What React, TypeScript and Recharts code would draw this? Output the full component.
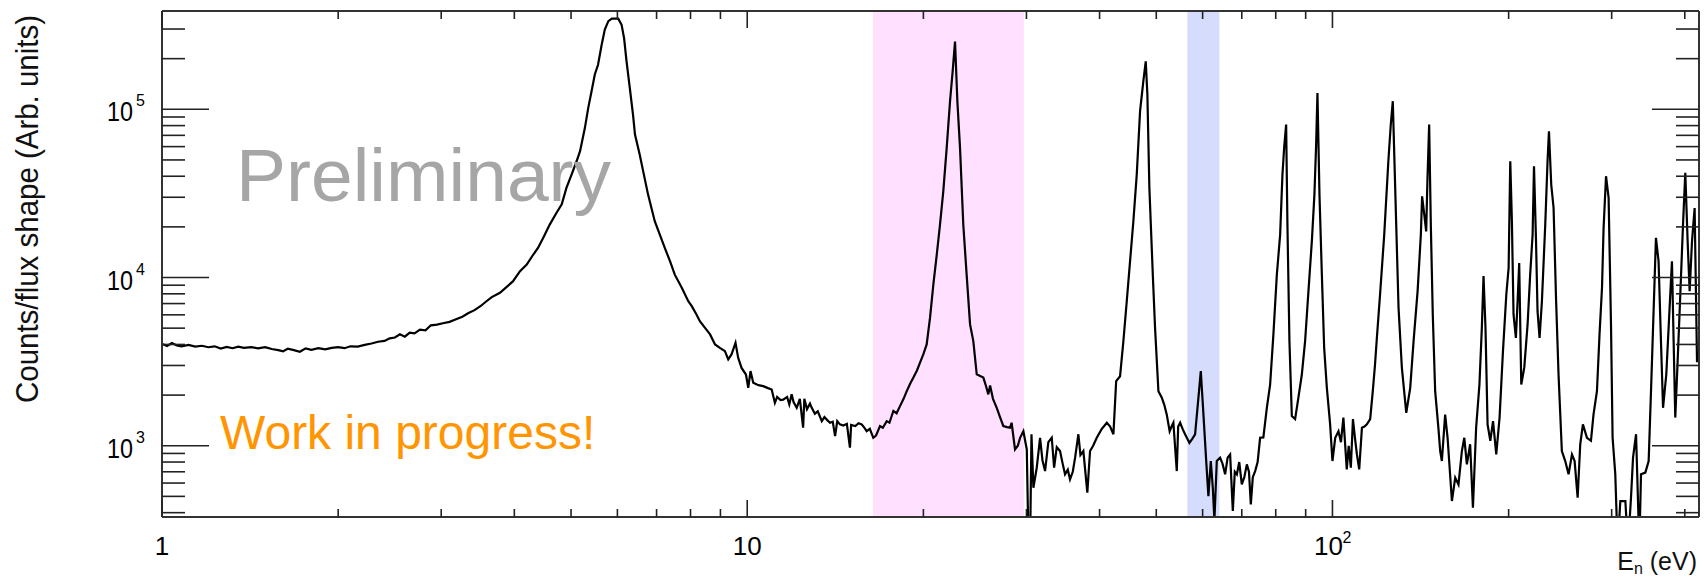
import { LineChart, Line, XAxis, YAxis, ReferenceArea } from "recharts";

const FONT = '"Liberation Sans", Arial, Helvetica, sans-serif';

// [energy (eV), counts/flux (arb. units)]
const plateauBins: [number, number][] = [
    [1.0, 4030], [1.02, 3920], [1.04, 4080], [1.06, 3950], [1.08, 3900], [1.11, 3980],
    [1.14, 3880], [1.17, 3930], [1.2, 3850], [1.23, 3900], [1.26, 3780], [1.29, 3870],
    [1.32, 3800], [1.35, 3880], [1.38, 3820], [1.42, 3860], [1.46, 3790], [1.5, 3850],
    [1.54, 3760], [1.58, 3700], [1.61, 3640], [1.64, 3770], [1.68, 3700], [1.72, 3620],
    [1.76, 3790], [1.8, 3720], [1.85, 3800], [1.9, 3740], [1.95, 3820], [2.0, 3860],
    [2.05, 3800], [2.1, 3900], [2.16, 3880], [2.22, 3980], [2.28, 4050], [2.34, 4150],
    [2.4, 4200], [2.45, 4350], [2.5, 4400], [2.55, 4600], [2.6, 4450], [2.65, 4700],
    [2.7, 4650], [2.76, 4900], [2.82, 4850], [2.88, 5200], [2.95, 5250], [3.02, 5350],
    [3.1, 5450], [3.18, 5650], [3.26, 5850], [3.34, 6150], [3.42, 6400], [3.5, 6750],
    [3.58, 7200], [3.66, 7650],
];

const firstResonanceBins: [number, number][] = [
    [3.78, 8110], [3.98, 9510], [4.09, 10900], [4.2, 11950], [4.31, 13700], [4.39, 15000],
    [4.48, 17200], [4.6, 20700], [4.72, 24200], [4.82, 27200], [4.91, 34100], [5.01, 40900],
    [5.11, 49100], [5.18, 56400], [5.28, 77600], [5.35, 102000], [5.42, 128000],
    [5.49, 161000], [5.56, 184000], [5.64, 242000], [5.71, 298000], [5.79, 334000],
    [5.87, 346000], [6.02, 346000], [6.1, 318000], [6.16, 265000], [6.22, 193000],
    [6.3, 134000], [6.38, 93100], [6.43, 70800], [6.55, 53800], [6.64, 42900], [6.77, 31100],
    [6.86, 25900], [6.95, 21600], [7.09, 18000], [7.23, 15000], [7.38, 12500], [7.52, 10400],
    [7.73, 8690], [7.93, 7240], [8.04, 6760], [8.19, 6030], [8.3, 5500], [8.47, 5020],
    [8.64, 4590], [8.81, 4000], [8.98, 3820], [9.16, 3650], [9.28, 3260], [9.4, 3490],
    [9.55, 4090], [9.65, 3330], [9.78, 2900], [9.95, 2650], [10.04, 2210], [10.13, 2780],
    [10.24, 2370], [10.45, 2290], [10.65, 2260], [10.85, 2200], [11.01, 2160], [11.15, 1800],
    [11.25, 1950], [11.4, 1870], [11.52, 1880], [11.7, 1950], [11.8, 1760], [11.91, 2020],
    [12.0, 1820], [12.15, 1680], [12.3, 1900], [12.46, 1280], [12.52, 1900], [12.65, 1650],
    [12.8, 1780], [12.89, 1680], [13.05, 1550], [13.2, 1600], [13.41, 1400], [13.55, 1480],
    [13.7, 1420], [13.85, 1370], [14.0, 1390], [14.13, 1140], [14.25, 1400], [14.4, 1340],
    [14.6, 1320], [14.8, 1350], [14.98, 973], [15.05, 1330], [15.3, 1310], [15.5, 1360],
    [15.69, 1340], [15.85, 1280], [16.0, 1220], [16.2, 1260],
];

const pinkWindowBins: [number, number][] = [
    [16.42, 1115], [16.6, 1150], [16.86, 1310], [17.05, 1280], [17.31, 1400], [17.5, 1370],
    [17.77, 1610], [18.0, 1560], [18.24, 1720], [18.5, 1900], [18.73, 2110], [19.0, 2350],
    [19.22, 2540], [19.5, 2800], [19.73, 3110], [20.0, 3500], [20.26, 4000], [20.53, 5770],
    [20.8, 9100], [21.08, 13700], [21.35, 20600], [21.63, 32600], [21.92, 59000],
    [22.21, 111700], [22.44, 168000], [22.65, 253000], [22.86, 111700], [23.1, 59000],
    [23.4, 20600], [23.71, 10400], [24.03, 5260], [24.34, 4190], [24.67, 2660], [25.0, 2600],
    [25.32, 2540], [25.6, 2250], [25.82, 2020], [26.0, 2280], [26.3, 1900], [26.69, 1680],
    [27.0, 1500], [27.39, 1310], [27.8, 1290], [28.12, 1280], [28.3, 1370], [28.68, 950],
    [29.0, 1000], [29.26, 1115], [29.64, 1220], [30.04, 950], [30.25, 250], [30.43, 250],
    [30.6, 1170], [30.83, 563], [31.24, 740], [31.65, 1115], [31.95, 820], [32.28, 707],
    [32.7, 1050], [33.14, 1115], [33.45, 740], [33.8, 980], [34.24, 930], [34.6, 780],
    [34.92, 676], [35.3, 720], [35.61, 631], [36.0, 700], [36.33, 849], [36.8, 1170],
    [37.1, 880], [37.53, 930], [38.12, 526], [38.53, 930], [39.0, 1000], [39.56, 1115],
    [40.3, 1250], [41.16, 1370], [41.7, 1300], [42.24, 1170],
];

const midRangeBins: [number, number][] = [
    [42.7, 2420], [43.36, 2590], [43.93, 4190], [44.52, 7250], [45.1, 12500], [45.69, 21600],
    [46.3, 40900], [46.91, 97500], [47.52, 147000], [47.97, 193000], [48.28, 122000],
    [48.66, 34100], [49.32, 10400], [49.76, 5020], [50.42, 2110], [51.1, 1930], [51.6, 1750],
    [52.11, 1530], [52.7, 1220], [53.1, 1300], [53.48, 1370], [54.2, 707], [54.5, 1300],
    [54.92, 1370], [55.5, 1250], [56.0, 1170], [56.5, 1100], [56.96, 1040], [57.6, 1100],
    [58.25, 1170], [59.02, 1930], [59.57, 2780], [60.05, 1760], [60.83, 830], [61.38, 502],
    [61.96, 811], [62.45, 563], [62.85, 360], [63.44, 811], [64.27, 849], [64.9, 780],
    [65.56, 676], [66.2, 850], [66.86, 888], [67.57, 409], [68.1, 700], [68.65, 676],
    [69.3, 800], [70.0, 589], [70.7, 650], [71.4, 775], [72.0, 700], [72.53, 448],
    [73.1, 650], [73.78, 707], [74.5, 800], [75.23, 1115], [76.2, 1120], [77.25, 1680],
    [78.25, 2310], [79.27, 4590], [80.35, 10400], [81.4, 18000], [82.14, 40900],
    [82.69, 59000], [83.34, 81200], [83.77, 20600], [84.43, 4190], [85.23, 1500],
    [86.34, 1440], [87.46, 1930], [88.65, 2650], [89.8, 4190], [90.99, 8300], [92.21, 16400],
    [93.15, 31100], [93.78, 61700], [94.27, 125000], [95.02, 31100], [95.92, 10400],
    [96.79, 3820], [97.82, 2210], [99.09, 1340], [100.0, 811], [101.1, 1115], [102.4, 1220],
    [103.4, 1050], [104.4, 1470], [105.8, 723], [106.6, 1000], [107.5, 740], [108.4, 1440],
    [109.3, 1100], [110.1, 888], [111.1, 723], [112.3, 1280], [113.4, 1300], [114.5, 1340],
    [116.0, 1440], [117.2, 2110], [118.2, 3000], [119.1, 4380], [120.6, 7930], [122.6, 18000],
    [124.6, 49100], [125.8, 81200], [126.8, 111700], [128.0, 34100], [129.7, 6600],
    [131.4, 2910], [133.7, 1570], [135.8, 2210], [137.6, 4190], [139.8, 8300], [141.6, 18000],
    [142.3, 30400], [143.5, 23700], [144.6, 18800], [145.3, 37400], [146.3, 81200],
    [147.3, 19700], [148.4, 6030], [149.8, 2110], [151.7, 1280],
];

const highRangeBins: [number, number][] = [
    [152.8, 930], [153.8, 811], [155.8, 1530], [157.3, 1115], [160.0, 469], [162.1, 646],
    [164.2, 589], [166.4, 930], [168.0, 1115], [169.7, 775], [171.9, 1020], [173.8, 428],
    [176.0, 1280], [178.3, 2310], [180.0, 5020], [181.2, 10200], [182.6, 5020], [184.1, 1340],
    [186.1, 1070], [188.1, 1400], [190.5, 888], [193.0, 1470], [195.6, 3650], [198.2, 7930],
    [200.0, 11400], [201.3, 49100], [202.6, 21600], [203.9, 6030], [205.8, 4380],
    [207.2, 7250], [208.5, 12200], [210.2, 2310], [212.7, 2910], [215.5, 5260], [217.7, 10400],
    [219.8, 18000], [221.0, 45900], [222.7, 17200], [224.1, 6310], [225.9, 4380], [228.0, 7250],
    [231.0, 20600], [233.1, 49100], [234.4, 74100], [236.5, 35700], [238.7, 25900],
    [241.0, 7570], [243.4, 2650], [246.6, 930], [249.9, 811], [253.2, 676], [256.6, 888],
    [259.3, 811], [262.4, 491], [265.1, 1020], [267.9, 1340], [272.2, 1115], [276.5, 1070],
    [279.3, 1530], [283.1, 2110], [286.0, 4590], [288.8, 8690], [290.6, 19700], [293.4, 40000],
    [296.4, 29800], [299.2, 5260], [301.1, 1115], [304.3, 676], [307.1, 250], [310.4, 469],
    [316.6, 469], [319.9, 250], [323.7, 491], [326.3, 849], [330.2, 1170], [334.5, 250],
    [336.7, 676], [342.5, 692], [347.0, 811], [350.2, 2110], [352.9, 4800], [357.1, 17200],
    [360.8, 12500], [364.2, 4190], [367.2, 1680], [371.9, 2650], [376.8, 6600], [380.3, 12500],
    [382.8, 4190], [385.3, 1470], [388.9, 3180], [393.0, 7930], [397.2, 20600], [400.8, 41900],
    [404.5, 16400], [407.7, 8300], [411.5, 16400], [415.8, 25900], [419.7, 3180], [423.0, 3180],
];

const xDomain: [number, number] = [1, 423];
const yDomain: [number, number] = [377, 384000];

const xTicks = [1, 2, 3, 4, 5, 6, 7, 8, 9, 10, 20, 30, 40, 50, 60, 70, 80, 90, 100, 200, 300, 400];
const xMajorTicks = [1, 10, 100];
const xTickBase: Record<number, string> = { 1: "1", 10: "10", 100: "10" };
const xTickExp: Record<number, string> = { 100: "2" };

const yTicks = [
    400, 500, 600, 700, 800, 900, 1000, 2000, 3000, 4000, 5000, 6000, 7000, 8000, 9000,
    10000, 20000, 30000, 40000, 50000, 60000, 70000, 80000, 90000, 100000, 200000, 300000,
];
const yMajorTicks = [1000, 10000, 100000];
const yTickExp: Record<number, string> = { 1000: "3", 10000: "4", 100000: "5" };

const pinkBand = { from: 16.4, to: 29.7 };
const blueBand = { from: 56.5, to: 64.1 };

const chartData = [
    ...plateauBins,
    ...firstResonanceBins,
    ...pinkWindowBins,
    ...midRangeBins,
    ...highRangeBins,
].map(([e, c]) => ({ e, c }));

const TICK_COLOR = "#222";

function BottomTick({ x, y, payload }: any) {
    const v = payload.value;
    const major = xMajorTicks.includes(v);
    const base = xTickBase[v];
    const exp = xTickExp[v];
    return (
        <g>
            <line x1={x} y1={y} x2={x} y2={y - (major ? 17 : 8)} stroke={TICK_COLOR} strokeWidth={1.6} />
            {base && (
                <text
                    x={exp ? x - 4 : x}
                    y={y + 38}
                    textAnchor="middle"
                    fontSize={26}
                    fontFamily={FONT}
                    fill="#000"
                >
                    {base}
                </text>
            )}
            {exp && (
                <text x={x + 10} y={y + 26} fontSize={16} fontFamily={FONT} fill="#000">
                    {exp}
                </text>
            )}
        </g>
    );
}

function TopTick({ x, y, payload }: any) {
    const major = xMajorTicks.includes(payload.value);
    return <line x1={x} y1={y} x2={x} y2={y + (major ? 17 : 8)} stroke={TICK_COLOR} strokeWidth={1.6} />;
}

function LeftTick({ x, y, payload }: any) {
    const v = payload.value;
    const major = yMajorTicks.includes(v);
    const exp = yTickExp[v];
    return (
        <g>
            <line x1={x} y1={y} x2={x + (major ? 47 : 23)} y2={y} stroke={TICK_COLOR} strokeWidth={1.6} />
            {exp && (
                <>
                    <text
                        x={x - 29}
                        y={y + 12}
                        textAnchor="end"
                        fontSize={27}
                        textLength={26}
                        lengthAdjust="spacingAndGlyphs"
                        fontFamily={FONT}
                        fill="#000"
                    >
                        10
                    </text>
                    <text x={x - 26} y={y - 3} fontSize={16} fontFamily={FONT} fill="#000">
                        {exp}
                    </text>
                </>
            )}
        </g>
    );
}

function RightTick({ x, y, payload }: any) {
    const major = yMajorTicks.includes(payload.value);
    return <line x1={x} y1={y} x2={x - (major ? 47 : 23)} y2={y} stroke={TICK_COLOR} strokeWidth={1.6} />;
}

const frame = { stroke: "#333", strokeWidth: 2 };

export default function App() {
    return (
        <div
            style={{
                position: "absolute",
                left: 0,
                top: 0,
                width: 1706,
                height: 578,
                background: "#fff",
                overflow: "hidden",
            }}
        >
            <LineChart
                width={1706}
                height={578}
                data={chartData}
                margin={{ top: 10, right: 6, bottom: 0, left: 0 }}
            >
                <XAxis
                    xAxisId="bottom"
                    dataKey="e"
                    type="number"
                    scale="log"
                    domain={xDomain}
                    allowDataOverflow
                    ticks={xTicks}
                    interval={0}
                    height={61}
                    tickSize={0}
                    tickMargin={0}
                    tickLine={false}
                    axisLine={frame}
                    tick={(p: any) => <BottomTick {...p} />}
                />
                <XAxis
                    xAxisId="top"
                    orientation="top"
                    dataKey="e"
                    type="number"
                    scale="log"
                    domain={xDomain}
                    allowDataOverflow
                    ticks={xTicks}
                    interval={0}
                    height={1}
                    tickSize={0}
                    tickMargin={0}
                    tickLine={false}
                    axisLine={frame}
                    tick={(p: any) => <TopTick {...p} />}
                />
                <YAxis
                    yAxisId="left"
                    type="number"
                    scale="log"
                    domain={yDomain}
                    allowDataOverflow
                    ticks={yTicks}
                    interval={0}
                    width={162}
                    tickSize={0}
                    tickMargin={0}
                    tickLine={false}
                    axisLine={frame}
                    tick={(p: any) => <LeftTick {...p} />}
                />
                <YAxis
                    yAxisId="right"
                    orientation="right"
                    type="number"
                    scale="log"
                    domain={yDomain}
                    allowDataOverflow
                    ticks={yTicks}
                    interval={0}
                    width={1}
                    tickSize={0}
                    tickMargin={0}
                    tickLine={false}
                    axisLine={frame}
                    tick={(p: any) => <RightTick {...p} />}
                />
                <Line
                    xAxisId="bottom"
                    yAxisId="left"
                    dataKey="c"
                    type="linear"
                    stroke="#000"
                    strokeWidth={2.2}
                    dot={false}
                    isAnimationActive={false}
                />
                <ReferenceArea
                    xAxisId="bottom"
                    yAxisId="left"
                    x1={pinkBand.from}
                    x2={pinkBand.to}
                    fill="#ff00ff"
                    fillOpacity={0.12}
                    stroke="none"
                />
                <ReferenceArea
                    xAxisId="bottom"
                    yAxisId="left"
                    x1={blueBand.from}
                    x2={blueBand.to}
                    fill="#3355ee"
                    fillOpacity={0.2}
                    stroke="none"
                />
            </LineChart>

            {/* titles and watermark texts */}
            <svg
                width={1706}
                height={578}
                style={{ position: "absolute", left: 0, top: 0, pointerEvents: "none" }}
            >
                <text
                    x={37.5}
                    y={15}
                    transform="rotate(-90 37.5 15)"
                    textAnchor="end"
                    fontSize={31}
                    textLength={388}
                    lengthAdjust="spacingAndGlyphs"
                    fontFamily={FONT}
                    fill="#111"
                >
                    Counts/flux shape (Arb. units)
                </text>
                <text x={1697} y={570} textAnchor="end" fontSize={25} fontFamily={FONT} fill="#111">
                    E
                    <tspan fontSize={16} dy={4}>n</tspan>
                    <tspan dy={-4}> (eV)</tspan>
                </text>
                <text x={236} y={201} fontSize={75} fontFamily={FONT} fill="#a6a6a6">
                    Preliminary
                </text>
                <text x={220} y={449} fontSize={48} fontFamily={FONT} fill="#ff9500">
                    Work in progress!
                </text>
            </svg>
        </div>
    );
}
